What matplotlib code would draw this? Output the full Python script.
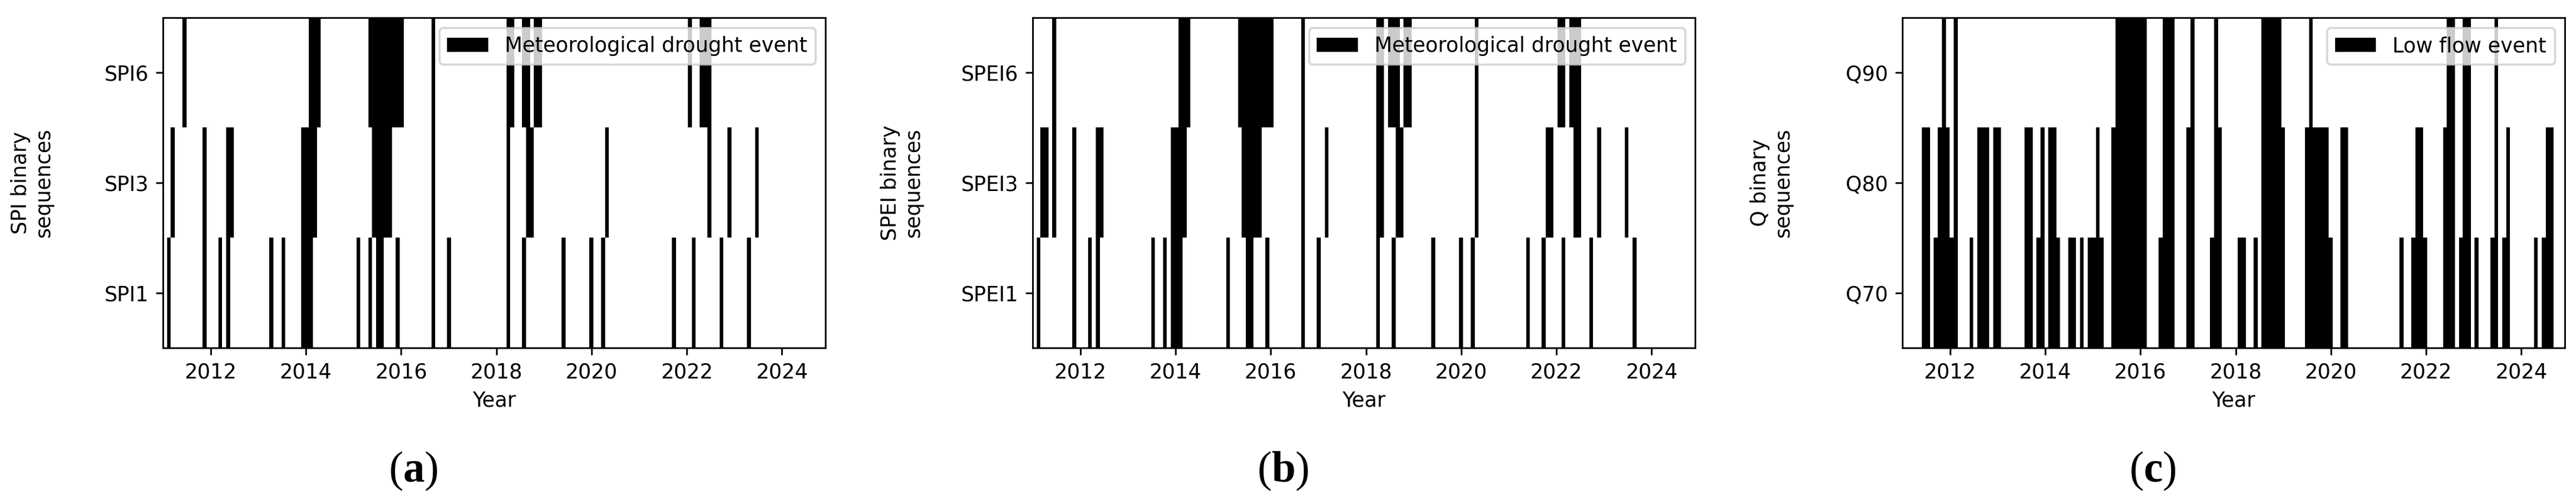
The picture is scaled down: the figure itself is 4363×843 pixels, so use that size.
import numpy as np
import matplotlib
matplotlib.use('Agg')
import matplotlib.pyplot as plt
import matplotlib.dates as mdates
from matplotlib.patches import Patch
from datetime import datetime

# monthly binary sequences, index 0 = first month of 2011
n_months = 168
start_date = datetime(2011, 1, 1)
end_date = datetime(2024, 12, 1)

# months flagged as events (1), all other months are 0
spi1_events = [1, 10, 14, 16, 27, 30, 35, 36, 37, 49, 52, 54, 55, 59, 68, 72, 87, 91,
               101, 108, 111, 129, 134, 141, 148]
spi3_events = [2, 10, 16, 17, 35, 36, 37, 38, 53, 54, 55, 56, 57, 68, 87, 92, 93, 112,
               138, 143, 150]
spi6_events = [5, 37, 38, 39, 52, 53, 54, 55, 56, 57, 58, 59, 60, 68, 87, 88, 91, 92,
               94, 95, 133, 136, 137, 138]

spei1_events = [1, 10, 14, 16, 30, 33, 35, 36, 37, 49, 54, 55, 59, 68, 72, 87, 91,
                101, 108, 111, 125, 129, 134, 141, 152]
spei3_events = [2, 3, 5, 10, 16, 17, 35, 36, 37, 38, 53, 54, 55, 56, 57, 68, 74, 87, 88,
                92, 93, 112, 130, 131, 137, 138, 143, 150]
spei6_events = [5, 37, 38, 39, 52, 53, 54, 55, 56, 57, 58, 59, 60, 68, 87, 88, 90, 91,
                92, 94, 95, 112, 133, 134, 136, 137, 138]

q70_events = [5, 6, 8, 9, 10, 11, 12, 13, 17, 19, 20, 21, 23, 24, 31, 32, 34, 35, 37,
              38, 39, 42, 43, 45, 47, 48, 49, 50, 53, 54, 55, 56, 57, 58, 59, 60, 61,
              65, 66, 67, 68, 72, 73, 78, 79, 80, 85, 86, 89, 91, 92, 93, 94, 95, 96,
              102, 103, 104, 105, 106, 107, 108, 111, 112, 126, 129, 130, 131, 132,
              137, 138, 139, 141, 142, 143, 145, 149, 150, 152, 153, 160, 162, 163, 164]
q80_events = [5, 6, 9, 10, 11, 13, 19, 20, 21, 23, 24, 31, 32, 35, 37, 38, 49, 53, 54,
              55, 56, 57, 58, 59, 60, 61, 66, 67, 68, 72, 73, 79, 80, 91, 92, 93, 94,
              95, 96, 102, 103, 104, 105, 106, 107, 111, 112, 130, 131, 137, 138, 139,
              142, 143, 150, 153, 163, 164]
q90_events = [10, 13, 54, 55, 56, 57, 58, 59, 60, 61, 66, 67, 68, 73, 79, 91, 92, 93,
              94, 95, 103, 138, 139, 142, 143, 150]

panels = [
    (['SPI1', 'SPI3', 'SPI6'], [spi1_events, spi3_events, spi6_events],
     'SPI binary\nsequences', 'Meteorological drought event', '(a)'),
    (['SPEI1', 'SPEI3', 'SPEI6'], [spei1_events, spei3_events, spei6_events],
     'SPEI binary\nsequences', 'Meteorological drought event', '(b)'),
    (['Q70', 'Q80', 'Q90'], [q70_events, q80_events, q90_events],
     'Q binary\nsequences', 'Low flow event', '(c)'),
]

plt.rcParams['mathtext.fontset'] = 'custom'
plt.rcParams['mathtext.bf'] = 'Liberation Serif:bold'
plt.rcParams['mathtext.rm'] = 'Liberation Serif'

fig = plt.figure(figsize=(17.452, 3.372), dpi=250)

ax_lefts = [0.0633, 0.4009, 0.7385]
ax_w, ax_b, ax_h = 0.2572, 0.3001, 0.6643
caption_x = [0.1605, 0.498, 0.8357]

x0 = mdates.date2num(start_date)
x1 = mdates.date2num(end_date)

for i, (names, events, ylab, leg_label, cap) in enumerate(panels):
    ax = fig.add_axes([ax_lefts[i], ax_b, ax_w, ax_h])
    seq = np.zeros((len(names), n_months))
    for r, ev in enumerate(events):
        seq[r, ev] = 1

    ax.imshow(seq, cmap='binary', vmin=0, vmax=1, aspect='auto',
              interpolation='nearest', origin='lower',
              extent=[x0, x1, -0.5, len(names) - 0.5])

    ax.xaxis.set_major_locator(mdates.YearLocator(2))
    ax.xaxis.set_major_formatter(mdates.DateFormatter('%Y'))
    ax.set_yticks(range(len(names)))
    ax.set_yticklabels(names)
    ax.set_xlabel('Year')
    ax.set_ylabel(ylab)
    ax.yaxis.set_label_coords(-0.165, 0.5)
    ax.legend(handles=[Patch(facecolor='black', label=leg_label)], loc='upper right')

    letter = cap.strip('()')
    fig.text(caption_x[i], 0.052, '($\\mathbf{' + letter + '}$)',
             fontfamily='Liberation Serif', fontsize=21, ha='center', va='center')

fig.savefig('out.png', dpi=250)
